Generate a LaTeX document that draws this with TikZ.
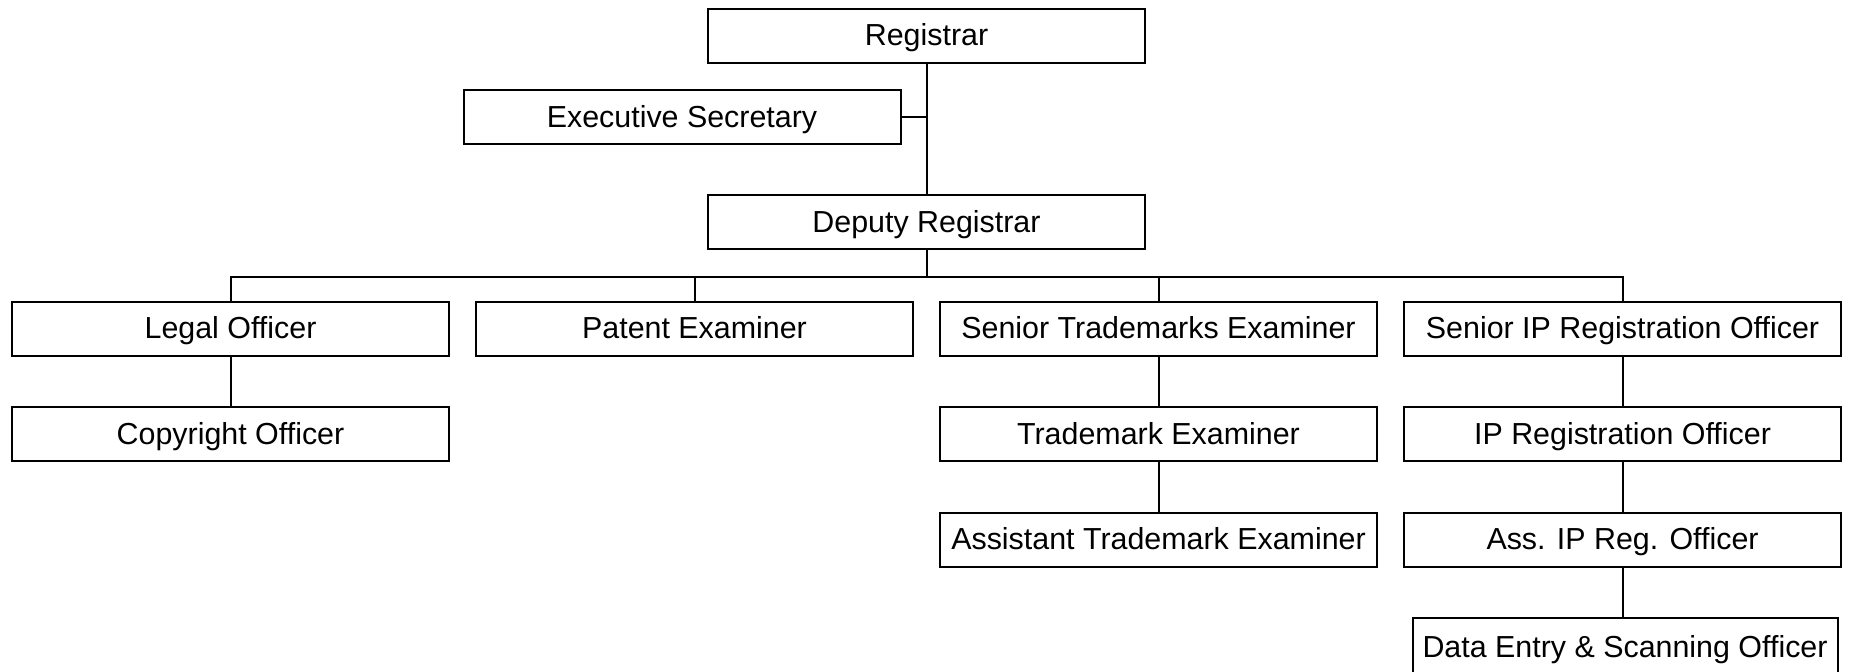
\documentclass[tikz,border=0pt]{standalone}
\usepackage{fontspec}
\setmainfont{Liberation Sans}
\usepackage{tikz}
\usetikzlibrary{positioning}
\tikzset{
    post/.style={rectangle, draw, line width=1pt, minimum width=218.5pt, minimum height=27pt, inner sep=0pt, text height=13pt, text depth=3pt, text centered, font=\fontsize{15.2}{18}\selectfont},
    link/.style={line width=1pt}
}

\begin{document}
\begin{tikzpicture}[
    node distance=24.75pt,
    narrowpost/.style={post, minimum width=212.5pt, minimum height=29pt}
]
    \useasboundingbox (0,0) rectangle (926.5pt,-335.5pt);

    % Top management
    \node[post] (reg) at (463.25pt,-17.75pt) {Registrar};
    \node[post] (exec) at (341pt,-58.5pt) {Executive Secretary};
    \node[post] (dep) at (463.25pt,-111pt) {Deputy Registrar};
    \coordinate (bus) at (463.25pt,-138.25pt);

    % Heads of units
    \node[post] (legal) at (115.25pt,-164.25pt) {Legal Officer};
    \node[post] (patent) at (347.25pt,-164.25pt) {Patent Examiner};
    \node[post] (senTM) at (579.25pt,-164.25pt) {Senior Trademarks Examiner};
    \node[post] (senIP) at (811.25pt,-164.25pt) {Senior IP Registration Officer};

    % Staff below
    \node[post, below=of legal] (copy) {Copyright Officer};
    \node[post, below=of senTM] (tm) {Trademark Examiner};
    \node[post, below=of tm] (asstTM) {Assistant Trademark Examiner};
    \node[post, below=of senIP] (ipReg) {IP Registration Officer};
    \node[post, below=of ipReg] (ipAss) {Ass. IP Reg. Officer};
    \node[narrowpost, below=of ipAss, xshift=1.25pt] (dataEntry) {Data Entry \& Scanning Officer};

    % Connections
    \draw[link] (reg) -- (dep);
    \draw[link] (exec.east) -- (exec.east -| reg.south);
    \draw[link] (dep) -- (bus);
    \foreach \n in {legal,patent,senTM,senIP}
        \draw[link] (\n.north) |- (bus);
    \draw[link] (legal) -- (copy);
    \draw[link] (senTM) -- (tm);
    \draw[link] (tm) -- (asstTM);
    \draw[link] (senIP) -- (ipReg);
    \draw[link] (ipReg) -- (ipAss);
    \draw[link] (ipAss.south) -- (ipAss.south |- dataEntry.north);
\end{tikzpicture}
\end{document}
